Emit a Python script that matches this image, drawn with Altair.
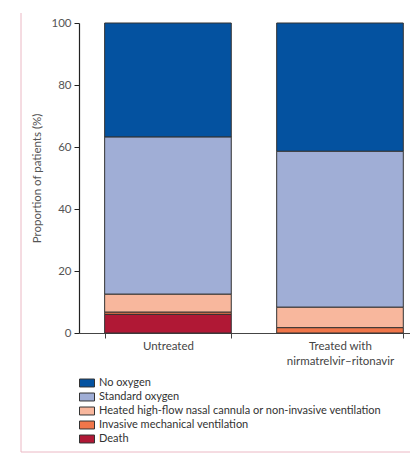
import altair as alt
import pandas as pd

groups = ["Untreated", "Treated with nirmatrelvir–ritonavir"]
categories = [
    "No oxygen",
    "Standard oxygen",
    "Heated high-flow nasal cannula or non-invasive ventilation",
    "Invasive mechanical ventilation",
    "Death",
]
colors = ["#0452A0", "#A0AED6", "#F8B79D", "#F0764A", "#B01835"]
untreated = [36.8, 50.7, 5.8, 0.7, 6.0]
treated = [41.4, 50.3, 6.6, 1.7, 0.0]
y_ticks = [0, 20, 40, 60, 80, 100]

rows = []
for g, vals in zip(groups, [untreated, treated]):
    for i, (c, v) in enumerate(zip(categories, vals)):
        rows.append({"group": g, "category": c, "value": v, "rank": len(categories) - i})
df = pd.DataFrame(rows)

FONT = "Lato"

bars = alt.Chart(df).transform_filter("datum.value > 0").mark_bar(
    stroke="#333333", strokeWidth=1
).encode(
    x=alt.X(
        "group:N",
        sort=groups,
        scale=alt.Scale(paddingInner=0.264, paddingOuter=0.094, align=0.793),
        axis=alt.Axis(
            title=None,
            labelAngle=0,
            labelExpr="datum.label == 'Untreated' ? 'Untreated' : (datum.label == 'Treated with nirmatrelvir–ritonavir' ? ['Treated with', 'nirmatrelvir–ritonavir'] : '')",
            labelLineHeight=15,
            labelFontSize=11.5,
            labelColor="#444444",
            labelPadding=2,
            tickBand="extent",
            tickSize=5,
            tickColor="#444444",
            domainColor="#444444",
            domainWidth=1.2,
        ),
    ),
    y=alt.Y(
        "value:Q",
        stack="zero",
        scale=alt.Scale(domain=[0, 100], nice=False),
        axis=alt.Axis(
            title="Proportion of patients (%)",
            values=y_ticks,
            tickSize=5,
            tickColor="#222222",
            domainColor="#222222",
            domainWidth=1.2,
            labelFontSize=11.5,
            labelColor="#555555",
            labelPadding=3,
            titleFontSize=11.5,
            titleFontWeight="normal",
            titleColor="#555555",
            titlePadding=8,
            grid=False,
        ),
    ),
    color=alt.Color(
        "category:N",
        scale=alt.Scale(domain=categories, range=colors),
        legend=alt.Legend(
            title=None,
            orient="none",
            legendX=0,
            legendY=352,
            symbolType="M-1,-0.53H1V0.53H-1Z",
            symbolSize=225,
            symbolStrokeColor="#333333",
            symbolStrokeWidth=1,
            symbolOpacity=1,
            labelFontSize=11,
            labelColor="#333333",
            labelLimit=400,
            rowPadding=0,
            labelOffset=4,
            padding=0,
        ),
    ),
    order=alt.Order("rank:Q", sort="ascending"),
)

frame_left = alt.Chart(pd.DataFrame({"k": [0]})).mark_rule(color="#EBB8C4", strokeWidth=1).encode(
    x=alt.value(-58), y=alt.value(-10), y2=alt.value(429)
)
frame_bottom = alt.Chart(pd.DataFrame({"k": [0]})).mark_rule(color="#EBB8C4", strokeWidth=1).encode(
    x=alt.value(-58), x2=alt.value(340), y=alt.value(429)
)

chart = alt.layer(frame_left, frame_bottom, bars).properties(
    width=331,
    height=310,
    autosize=alt.AutoSizeParams(type="none"),
    padding={"left": 71, "top": 15, "right": 0, "bottom": 120},
).configure(font=FONT).configure_view(stroke=None)

chart.save("out.html", embed_options={"renderer": "svg", "actions": False})
